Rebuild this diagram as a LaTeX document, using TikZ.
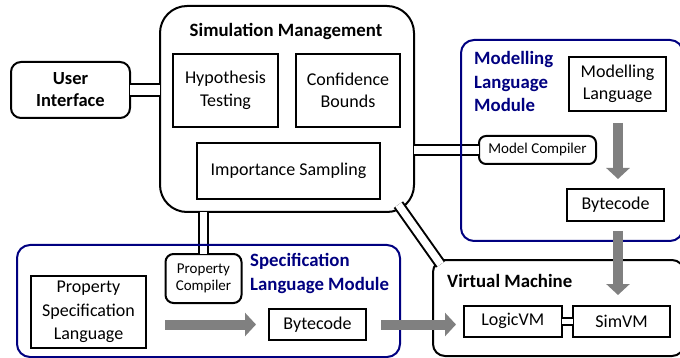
\documentclass[tikz,border=0pt]{standalone}
\usepackage{fontspec}
\setmainfont{Carlito}
\usetikzlibrary{arrows.meta,calc}
\definecolor{navyc}{RGB}{0,0,128}
\definecolor{arrowgray}{RGB}{128,128,128}
\begin{document}
\begin{tikzpicture}[x=1pt,y=-1pt,
  box/.style={draw,line width=2pt,inner sep=0pt,align=center,font=\fontsize{18}{22.5}\selectfont},
  bigbox/.style={draw,line width=2pt,rounded corners=27pt,inner sep=0pt},
  roundbox/.style={draw,line width=2pt,rounded corners=12pt,inner sep=0pt},
  module/.style={draw=navyc,line width=2pt,rounded corners=13pt,inner sep=0pt},
  smallbox/.style={box,rounded corners=8pt,font=\fontsize{15}{17}\selectfont},
  titletext/.style={font=\bfseries\fontsize{18.8}{23.5}\selectfont,align=left,inner sep=0pt},
  pipe/.style={line width=2pt,double=white,double distance=#1,shorten <=-1pt,shorten >=-1pt},
  bigarrow/.style={draw=arrowgray,line width=10pt,-{Triangle[length=11pt,width=23pt]},arrowgray},
]
\useasboundingbox (0,0) rectangle (680,358);
\clip (0,0) rectangle (680,358);

% Simulation management
\node[bigbox,minimum width=254pt,minimum height=206pt] (sm) at (287,109) {};
\node[titletext,anchor=base] (smt) at (286,36.5) {Simulation Management};
\node[box,minimum width=105pt,minimum height=73pt] (hyp) at (225.5,90.5) {Hypothesis\\Testing};
\node[box,minimum width=104pt,minimum height=73pt] (conf) at (348,90.5) {Confidence\\Bounds};
\node[box,minimum width=183pt,minimum height=56pt] (imp) at (288.5,171) {Importance Sampling};

% User interface
\node[box,rounded corners=10pt,minimum width=119pt,minimum height=56pt,font=\bfseries\fontsize{18.5}{22}\selectfont] (ui) at (70.5,90) {User\\Interface};

% Specification module contents
\node[smallbox,minimum width=76pt,minimum height=49pt] (pc) at (203.5,278.5) {Property\\Compiler};
\node[box,minimum width=115pt,minimum height=72pt,font=\fontsize{18}{23.5}\selectfont] (psl) at (88.5,312) {Property\\Specification\\Language};
\node[box,minimum width=97pt,minimum height=31pt] (bcs) at (317.5,324.5) {Bytecode};

% Virtual machine
\node[roundbox,minimum width=251pt,minimum height=96pt] (vm) at (558.5,308) {};
\node[titletext,anchor=base west] (vmt) at (447,287) {Virtual Machine};
\node[box,minimum width=97.5pt,minimum height=30.5pt] (lvm) at (512.75,321.25) {LogicVM};
\node[box,minimum width=96.7pt,minimum height=30.5pt] (svm) at (621.6,321.25) {SimVM};

% Modelling module contents
\node[box,minimum width=97pt,minimum height=54pt] (ml) at (617.5,84) {Modelling\\Language};
\node[box,minimum width=97pt,minimum height=32pt] (bcm) at (615.5,205) {Bytecode};
\node[smallbox,rounded corners=7pt,minimum width=117pt,minimum height=28pt] (mc) at (537.5,150) {Model Compiler};

% pipes
\coordinate (d1) at (399,205.5);
\coordinate (d2) at (440,263.5);
\draw[pipe=10pt] (ui.east) -- (ui.east -| sm.west);
\draw[pipe=8pt] (sm.east |- mc.west) -- (mc.west);
\draw[pipe=6.5pt] (sm.south -| pc.north) -- (pc.north);
\draw[pipe=7.5pt] (d1) -- (d2);
\draw[pipe=4.8pt] (lvm.east) -- (svm.west);

% modules (navy)
\node[module,minimum width=383pt,minimum height=112pt] (spm) at (208.5,301) {};
\node[titletext,text=navyc,anchor=base west] (spmt) at (250,290) {Specification\\Language Module};
\node[module,minimum width=222pt,minimum height=201pt] (mm) at (572,140.5) {};
\node[titletext,text=navyc,anchor=base west] (mmt) at (474,112) {Modelling\\Language\\Module};

% arrows
\draw[bigarrow,shorten <=18pt,shorten >=12pt] (psl.east |- bcs.west) -- (bcs.west);
\draw[bigarrow,shorten <=14pt,shorten >=7pt] (bcs.east) -- (bcs.east -| lvm.west);
\draw[bigarrow,shorten <=11pt,shorten >=9pt] ([xshift=0.5pt]ml.south) -- ([xshift=0.5pt]ml.south |- bcm.north);
\draw[bigarrow,shorten <=9pt,shorten >=10pt] ([xshift=2.5pt]bcm.south) -- ([xshift=2.5pt]bcm.south |- svm.north);
\end{tikzpicture}
\end{document}
